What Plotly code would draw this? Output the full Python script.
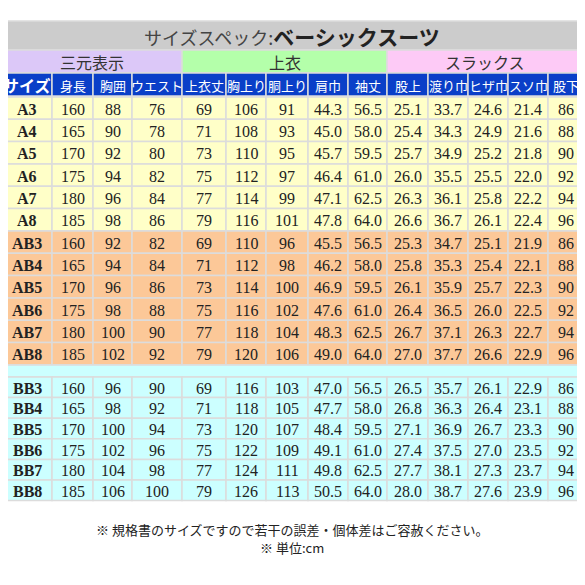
import plotly.graph_objects as go

sizes = ["A3","A4","A5","A6","A7","A8","AB3","AB4","AB5","AB6","AB7","AB8","BB3","BB4","BB5","BB6","BB7","BB8"]
headers = ["サイズ","身長","胸囲","ウエスト","上衣丈","胸上り","胴上り","肩巾","袖丈","股上","渡り巾","ヒザ巾","スソ巾","股下"]
groups = ["三元表示","上衣","スラックス"]
rows = [
 ["160","88","76","69","106","91","44.3","56.5","25.1","33.7","24.6","21.4","86"],
 ["165","90","78","71","108","93","45.0","58.0","25.4","34.3","24.9","21.6","88"],
 ["170","92","80","73","110","95","45.7","59.5","25.7","34.9","25.2","21.8","90"],
 ["175","94","82","75","112","97","46.4","61.0","26.0","35.5","25.5","22.0","92"],
 ["180","96","84","77","114","99","47.1","62.5","26.3","36.1","25.8","22.2","94"],
 ["185","98","86","79","116","101","47.8","64.0","26.6","36.7","26.1","22.4","96"],
 ["160","92","82","69","110","96","45.5","56.5","25.3","34.7","25.1","21.9","86"],
 ["165","94","84","71","112","98","46.2","58.0","25.8","35.3","25.4","22.1","88"],
 ["170","96","86","73","114","100","46.9","59.5","26.1","35.9","25.7","22.3","90"],
 ["175","98","88","75","116","102","47.6","61.0","26.4","36.5","26.0","22.5","92"],
 ["180","100","90","77","118","104","48.3","62.5","26.7","37.1","26.3","22.7","94"],
 ["185","102","92","79","120","106","49.0","64.0","27.0","37.7","26.6","22.9","96"],
 ["160","96","90","69","116","103","47.0","56.5","26.5","35.7","26.1","22.9","86"],
 ["165","98","92","71","118","105","47.7","58.0","26.8","36.3","26.4","23.1","88"],
 ["170","100","94","73","120","107","48.4","59.5","27.1","36.9","26.7","23.3","90"],
 ["175","102","96","75","122","109","49.1","61.0","27.4","37.5","27.0","23.5","92"],
 ["180","104","98","77","124","111","49.8","62.5","27.7","38.1","27.3","23.7","94"],
 ["185","106","100","79","126","113","50.5","64.0","28.0","38.7","27.6","23.9","96"],
]
title_a = "サイズスペック:"
title_b = "ベーシックスーツ"
notes = ["※ 規格書のサイズですので若干の誤差・個体差はご容赦ください。", "※ 単位:cm"]

xb = [2,52,93,132,182,226,266,308,348,387,428,468,508,548,583]
gspan = [(2,182),(182,387),(387,583)]
gcol = ["#dcc8f8","#b4ffaa","#fdcaf6"]
rowcol = {"A":"#ffffc8","AB":"#fcc898","BB":"#ccffff"}
border = "#dcdcdc"

shapes, ann = [], []
def rect(x0,y0,x1,y1,fill):
    shapes.append(dict(type="rect",xref="x",yref="y",x0=x0,x1=x1,y0=y0,y1=y1,
                       fillcolor=fill,line=dict(color=border,width=1.5),layer="below"))
def text(x,y,t,size=15,color="#222",font="Liberation Serif"):
    ann.append(dict(x=x,y=y,xref="x",yref="y",text=t,showarrow=False,
                    font=dict(size=size,color=color,family=font)))

rect(2,21,583,50,"#cccccc")
ann.append(dict(x=292,y=36,xref="x",yref="y",showarrow=False,
    text=f"<span style='font-size:18px;color:#444'>{title_a}</span><b>{title_b}</b>",
    font=dict(size=21,color="#222",family="Noto Sans CJK JP")))
for (a,b),c,g in zip(gspan,gcol,groups):
    rect(a,50,b,73,c); text((a+b)/2,62,g,16,"#333","Noto Sans CJK JP")
for i,h in enumerate(headers):
    rect(xb[i],73,xb[i+1],96,"#0a3fc8")
    text((xb[i]+xb[i+1])/2,85,("<b>%s</b>"%h) if i==0 else h,16 if i==0 else 13,"white","Noto Sans CJK JP")

def draw_rows(y0,pitch,idx):
    for k,r in enumerate(idx):
        y=y0+k*pitch
        s=sizes[r]; c=rowcol["BB" if s.startswith("BB") else "AB" if s.startswith("AB") else "A"]
        vals=[s]+rows[r]
        for i,v in enumerate(vals):
            rect(xb[i],y,xb[i+1],y+pitch,c)
            text((xb[i]+xb[i+1])/2,y+pitch/2+1,("<b>%s</b>"%v) if i==0 else v,16,"#222")
draw_rows(97,22.3,range(0,6))
draw_rows(231,22.3,range(6,12))
rect(2,365,583,377,"#ccffff")
draw_rows(377,20.6,range(12,18))
text(292,529,notes[0],13,"#222","Noto Sans CJK JP")
text(292,547,notes[1],13,"#222","Noto Sans CJK JP")

fig=go.Figure()
fig.update_layout(width=569,height=569,margin=dict(l=0,r=0,t=0,b=0),
    plot_bgcolor="white",paper_bgcolor="white",shapes=shapes,annotations=ann,
    xaxis=dict(range=[8,577],visible=False,fixedrange=True),
    yaxis=dict(range=[577,8],visible=False,fixedrange=True),showlegend=False)
fig.write_html("out.html")
